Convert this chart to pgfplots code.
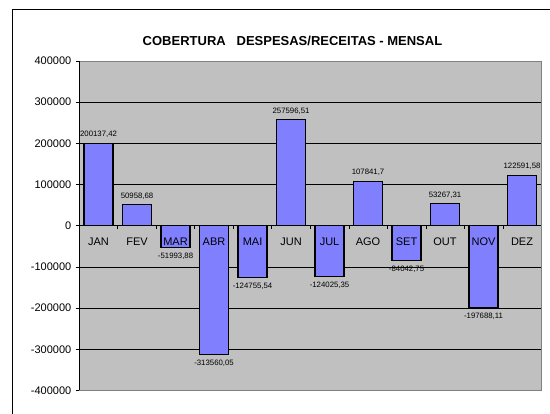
\documentclass[border=0pt]{standalone}
\usepackage{pgfplots}
\pgfplotsset{compat=1.18}
\usepackage{pgfplotstable}
\usepackage{fontspec}
\setmainfont{Liberation Sans}
\definecolor{barfill}{RGB}{128,128,255}
\definecolor{plotbg}{RGB}{192,192,192}
\definecolor{framegray}{RGB}{128,128,128}

\pgfplotsset{
  chartgeom/.style={
    at={(79.3pt,23.5pt)}, anchor=south west,
    scale only axis, width=462pt, height=329.5pt,
    xmin=-0.5, xmax=11.5, ymin=-400000, ymax=400000,
  },
}

\pgfplotstableread{
x y lab
0 200137.42 200137,42
1 50958.68 50958,68
5 257596.51 257596,51
7 107841.7 107841,7
9 53267.31 53267,31
11 122591.58 122591,58
}\pos

\pgfplotstableread{
x y lab
2 -51993.88 -51993,88
3 -313560.05 -313560,05
4 -124755.54 -124755,54
6 -124025.35 -124025,35
8 -84042.75 -84042,75
10 -197688.11 -197688,11
}\neg

\begin{document}
\begin{tikzpicture}
\useasboundingbox (0pt,0pt) rectangle (550pt,414pt);
\fill[white] (0pt,0pt) rectangle (550pt,414pt);
\draw[black, line width=1pt] (12.3pt,-20pt) -- (12.3pt,404.7pt) -- (600pt,404.7pt);
\node[font=\fontsize{13}{15}\selectfont\bfseries] at (292.5pt,372.8pt) {COBERTURA\ \ \ DESPESAS/RECEITAS - MENSAL};
\begin{axis}[
  chartgeom,
  axis x line*=middle, axis y line*=left,
  axis line style={black, line width=0.8pt},
  axis background/.style={fill=plotbg},
  ybar, bar width=29pt, bar shift=0pt,
  xtick=\empty,
  ytick={-400000,-300000,...,400000},
  yticklabels={-400000,-300000,-200000,-100000,0,100000,200000,300000,400000},
  scaled y ticks=false,
  y tick style={black, line width=0.6pt},
  major tick length=3.5pt,
  tick align=outside,
  ymajorgrids, grid style={black, line width=0.7pt},
  tick label style={font=\fontsize{11}{13}\selectfont},
  yticklabel style={xshift=-1pt},
  point meta=explicit symbolic,
  clip=false,
]
\addplot[fill=barfill, draw=black, line width=1.2pt,
  nodes near coords, every node near coord/.style={font=\fontsize{7.8}{9}\selectfont, inner sep=0pt, anchor=south, yshift=5pt}]
  table[x=x, y=y, meta=lab] {\pos};
\addplot[fill=barfill, draw=black, line width=1.2pt,
  nodes near coords, every node near coord/.style={font=\fontsize{7.8}{9}\selectfont, inner sep=0pt, anchor=north, yshift=-5pt}]
  table[x=x, y=y, meta=lab] {\neg};
\draw[framegray, line width=0.9pt] (rel axis cs:0,1) -- (rel axis cs:1,1) -- (rel axis cs:1,0) -- (rel axis cs:0,0);
\draw[black, line width=0.8pt] (rel axis cs:0,0) -- (rel axis cs:0,1);
\end{axis}
\begin{axis}[
  chartgeom,
  axis x line*=middle, axis y line=none,
  axis line style={black, line width=0.8pt},
  xtick={0,...,11},
  xticklabels={JAN,FEV,MAR,ABR,MAI,JUN,JUL,AGO,SET,OUT,NOV,DEZ},
  minor xtick={0.5,1.5,...,10.5},
  major x tick style={draw=none},
  minor x tick style={black, line width=0.6pt},
  minor tick length=3.5pt,
  tick align=outside,
  tick label style={font=\fontsize{11}{13}\selectfont},
  xticklabel style={anchor=base, yshift=-15pt},
]
\end{axis}
\end{tikzpicture}
\end{document}
